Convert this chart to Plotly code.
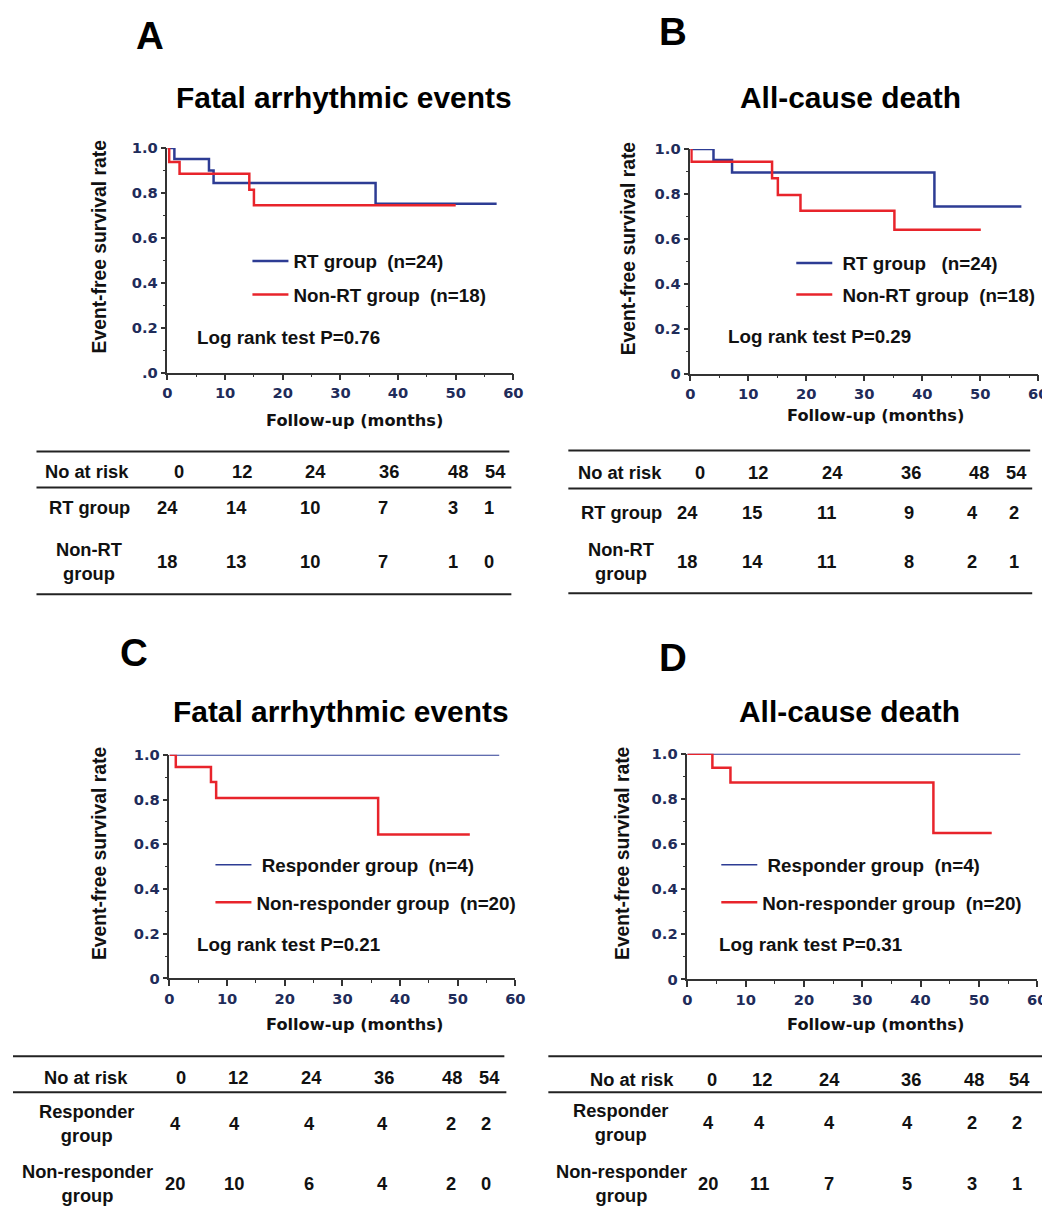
import plotly.graph_objects as go

# ---------------- data ----------------
# Panel A: Fatal arrhythmic events (RT vs Non-RT)
a_rt_t = [0, 1.2, 7.2, 8.0, 36.1, 57.1]
a_rt_s = [1.0, 0.951, 0.900, 0.845, 0.752, 0.752]
a_nonrt_t = [0, 0.3, 2.1, 14.2, 15.0, 50.0]
a_nonrt_s = [1.0, 0.938, 0.886, 0.815, 0.746, 0.746]
# Panel B: All-cause death (RT vs Non-RT)
b_rt_t = [0, 4.0, 7.2, 42.1, 57.1]
b_rt_s = [1.0, 0.951, 0.896, 0.744, 0.744]
b_nonrt_t = [0, 0.2, 14.1, 15.1, 19.0, 35.2, 50.1]
b_nonrt_s = [1.0, 0.944, 0.870, 0.796, 0.726, 0.641, 0.641]
# Panel C: Fatal arrhythmic events (Responder vs Non-responder)
c_resp_t = [0, 57.2]
c_resp_s = [1.0, 1.0]
c_nonresp_t = [0, 1.1, 7.2, 8.1, 36.2, 52.1]
c_nonresp_s = [1.0, 0.946, 0.878, 0.807, 0.644, 0.644]
# Panel D: All-cause death (Responder vs Non-responder)
d_resp_t = [0, 57.1]
d_resp_s = [1.0, 1.0]
d_nonresp_t = [0, 4.3, 7.4, 42.2, 52.2]
d_nonresp_s = [1.0, 0.938, 0.873, 0.649, 0.649]

panel_letters = ["A", "B", "C", "D"]
panel_titles = ["Fatal arrhythmic events", "All-cause death",
                "Fatal arrhythmic events", "All-cause death"]
series_names = [
    ["RT group\u00a0\u00a0(n=24)", "Non-RT group\u00a0\u00a0(n=18)"],
    ["\u00a0RT group\u00a0\u00a0\u00a0(n=24)", "\u00a0Non-RT group\u00a0\u00a0(n=18)"],
    ["\u00a0Responder group\u00a0\u00a0(n=4)", "Non-responder group\u00a0\u00a0(n=20)"],
    ["\u00a0Responder group\u00a0\u00a0(n=4)", "Non-responder group\u00a0\u00a0(n=20)"],
]
pvalue_texts = ["Log rank test P=0.76", "Log rank test P=0.29",
                "Log rank test P=0.21", "Log rank test P=0.31"]
y_tick_values = [0, 0.2, 0.4, 0.6, 0.8, 1.0]
y_tick_labels_a = [".0", "0.2", "0.4", "0.6", "0.8", "1.0"]
y_tick_labels_other = ["0", "0.2", "0.4", "0.6", "0.8", "1.0"]

risk_times = ["0", "12", "24", "36", "48", "54"]
risk_header = "No at risk"
risk_labels = [["RT group", "Non-RT<br>group"],
               ["RT group", "Non-RT<br>group"],
               ["Responder<br>group", "Non-responder<br>group"],
               ["Responder<br>group", "Non-responder<br>group"]]
risk_a_rt = [24, 14, 10, 7, 3, 1]
risk_a_nonrt = [18, 13, 10, 7, 1, 0]
risk_b_rt = [24, 15, 11, 9, 4, 2]
risk_b_nonrt = [18, 14, 11, 8, 2, 1]
risk_c_resp = [4, 4, 4, 4, 2, 2]
risk_c_nonresp = [20, 10, 6, 4, 2, 0]
risk_d_resp = [4, 4, 4, 4, 2, 2]
risk_d_nonresp = [20, 11, 7, 5, 3, 1]

# ---------------- layout constants ----------------
W, H = 1050, 1208
# observed mapping from figure pixels to the photographed picture
SX, CX, SY, CY = 0.986, 13.5, 0.988, 14.6
BLUE = "#2d3c94"
RED = "#e8242b"
AXIS_COLOR = "#333333"
TXT = "Liberation Sans, Arial, sans-serif"


def fs(v):
    return round(v / SX, 1)


def clamp(v):
    return max(0.0, min(1.0, v))


TICK_FONT = dict(family="DejaVu Sans", size=fs(14.5), color="#1f2c5a", weight="bold")


def px_x(r):
    return clamp(((r - CX) / SX) / W)


def px_y(r):
    return clamp(1 - ((r - CY) / SY) / H)


# plot areas in target picture pixels: (x_left, x_right, y_top(=1.0), y_bottom(=0))
areas = [(168, 514, 146, 371), (691, 1039, 147, 372),
         (170, 516, 754, 978), (688, 1038, 753, 979)]
letter_pos = [(151, 33), (674, 29), (135, 651), (674, 656)]
title_pos = [(345, 95), (851, 95), (342, 711), (850, 711)]
ytitle_pos = [(100, 244), (630, 246), (100, 852), (623, 852)]
xtitle_pos = [(355, 419), (876, 414), (355, 1024), (876, 1024)]
pval_pos = [(196, 336), (727, 335), (196, 944), (718, 944)]
legend_swatch = [(253, 276), (797, 277), (216, 883), (722, 883)]
legend_gap = [6, 4, 10, 10]
resp_width = [2.5, 2.5, 1.6, 1.6]

series = [
    (a_rt_t, a_rt_s, a_nonrt_t, a_nonrt_s),
    (b_rt_t, b_rt_s, b_nonrt_t, b_nonrt_s),
    (c_resp_t, c_resp_s, c_nonresp_t, c_nonresp_s),
    (d_resp_t, d_resp_s, d_nonresp_t, d_nonresp_s),
]

fig = go.Figure()
annotations = []
shapes = []
layout_axes = {}

for i in range(4):
    sfx = "" if i == 0 else str(i + 1)
    xl, xr, yt, yb = areas[i]
    t1, s1, t2, s2 = series[i]
    leg = "legend" if i == 0 else f"legend{i + 1}"
    fig.add_trace(go.Scatter(
        x=t1, y=s1, mode="lines", name=series_names[i][0],
        line=dict(shape="hv", color=BLUE, width=resp_width[i]),
        xaxis="x" + sfx, yaxis="y" + sfx, legend=leg,
        legendgroup=f"g{i}a", cliponaxis=False, hoverinfo="skip"))
    fig.add_trace(go.Scatter(
        x=t2, y=s2, mode="lines", name=series_names[i][1],
        line=dict(shape="hv", color=RED, width=2.5),
        xaxis="x" + sfx, yaxis="y" + sfx, legend=leg,
        legendgroup=f"g{i}b", cliponaxis=False, hoverinfo="skip"))

    layout_axes["xaxis" + sfx] = dict(
        domain=[px_x(xl), px_x(xr)], anchor="y" + sfx, range=[0, 60],
        tickmode="linear", tick0=0, dtick=10,
        showline=True, linecolor=AXIS_COLOR, linewidth=1.5,
        ticks="outside", ticklen=6, tickwidth=1.5, tickcolor=AXIS_COLOR,
        minor=dict(ticks="outside", ticklen=3, tickwidth=1, tickcolor=AXIS_COLOR,
                   tickmode="linear", tick0=0, dtick=5),
        showgrid=False, zeroline=False, tickfont=TICK_FONT, fixedrange=True)
    layout_axes["yaxis" + sfx] = dict(
        domain=[px_y(yb), px_y(yt)], anchor="x" + sfx, range=[0, 1.0],
        tickmode="array", tickvals=y_tick_values,
        ticktext=y_tick_labels_a if i == 0 else y_tick_labels_other,
        showline=True, linecolor=AXIS_COLOR, linewidth=1.5,
        ticks="outside", ticklen=5, tickwidth=1.5, tickcolor=AXIS_COLOR,
        minor=dict(ticks="outside", ticklen=3, tickwidth=1, tickcolor=AXIS_COLOR,
                   tickmode="linear", tick0=0, dtick=0.1),
        showgrid=False, zeroline=False, tickfont=TICK_FONT, fixedrange=True)

    lx, ly = legend_swatch[i]
    layout_axes[leg] = dict(
        x=px_x(lx - 5), y=px_y(ly), xanchor="left", yanchor="middle",
        bgcolor="rgba(0,0,0,0)", borderwidth=0, tracegroupgap=legend_gap[i],
        itemwidth=36,
        font=dict(family=TXT, size=fs(18.5), color="#111111", weight="bold"))

    annotations.append(dict(text=panel_letters[i], x=px_x(letter_pos[i][0]),
                            y=px_y(letter_pos[i][1]), xref="paper", yref="paper",
                            showarrow=False, xanchor="center", yanchor="middle",
                            font=dict(family=TXT, size=fs(38), color="#000", weight="bold")))
    annotations.append(dict(text=panel_titles[i], x=px_x(title_pos[i][0]),
                            y=px_y(title_pos[i][1]), xref="paper", yref="paper",
                            showarrow=False, xanchor="center", yanchor="middle",
                            font=dict(family=TXT, size=fs(29.5), color="#000", weight="bold")))
    annotations.append(dict(text="Event-free survival rate", x=px_x(ytitle_pos[i][0]),
                            y=px_y(ytitle_pos[i][1]), xref="paper", yref="paper",
                            textangle=-90, showarrow=False, xanchor="center", yanchor="middle",
                            font=dict(family=TXT, size=fs(19), color="#111", weight="bold")))
    annotations.append(dict(text="Follow-up (months)", x=px_x(xtitle_pos[i][0]),
                            y=px_y(xtitle_pos[i][1]), xref="paper", yref="paper",
                            showarrow=False, xanchor="center", yanchor="middle",
                            font=dict(family="DejaVu Sans", size=fs(16), color="#111", weight="bold")))
    annotations.append(dict(text=pvalue_texts[i], x=px_x(pval_pos[i][0]),
                            y=px_y(pval_pos[i][1]), xref="paper", yref="paper",
                            showarrow=False, xanchor="left", yanchor="middle",
                            font=dict(family=TXT, size=fs(18.5), color="#111", weight="bold")))

# ---------------- number-at-risk tables ----------------
tables = [
    dict(lines=[(37, 510, 450), (37, 512, 486), (37, 512, 593)],
         label_x=90, header_label_x=88, header_y=470, row_y=[506, 560],
         head_x=[180, 243, 316, 390, 459, 496], val_x=[168, 237, 311, 384, 454, 490],
         rows=[risk_a_rt, risk_a_nonrt]),
    dict(lines=[(569, 1031, 449), (569, 1033, 487), (569, 1033, 592)],
         label_x=622, header_label_x=621, header_y=471, row_y=[511, 560],
         head_x=[701, 759, 833, 912, 980, 1017], val_x=[688, 753, 827, 910, 973, 1015],
         rows=[risk_b_rt, risk_b_nonrt]),
    dict(lines=[(12, 505, 1056), (12, 507, 1092)],
         label_x=88, header_label_x=87, header_y=1077, row_y=[1123, 1184],
         head_x=[182, 239, 312, 385, 453, 490], val_x=[176, 235, 310, 383, 452, 487],
         rows=[risk_c_resp, risk_c_nonresp]),
    dict(lines=[(549, 1050, 1056), (549, 1050, 1092)],
         label_x=622, header_label_x=633, header_y=1079, row_y=[1122, 1184],
         head_x=[713, 763, 830, 912, 975, 1020], val_x=[709, 760, 830, 908, 973, 1018],
         rows=[risk_d_resp, risk_d_nonresp]),
]
TFONT = dict(family=TXT, size=fs(18), color="#111", weight="bold")
for ti, tb in enumerate(tables):
    for (x0, x1, y) in tb["lines"]:
        shapes.append(dict(type="line", xref="paper", yref="paper",
                           x0=px_x(x0), x1=px_x(x1), y0=px_y(y), y1=px_y(y),
                           line=dict(color="#222", width=2)))
    annotations.append(dict(text=risk_header, x=px_x(tb["header_label_x"]), y=px_y(tb["header_y"]),
                            xref="paper", yref="paper", showarrow=False,
                            xanchor="center", yanchor="middle", font=TFONT))
    for hx, ht in zip(tb["head_x"], risk_times):
        annotations.append(dict(text=ht, x=px_x(hx), y=px_y(tb["header_y"]),
                                xref="paper", yref="paper", showarrow=False,
                                xanchor="center", yanchor="middle", font=TFONT))
    for ri, row in enumerate(tb["rows"]):
        ry = tb["row_y"][ri]
        annotations.append(dict(text=risk_labels[ti][ri], x=px_x(tb["label_x"]), y=px_y(ry),
                                xref="paper", yref="paper", showarrow=False,
                                xanchor="center", yanchor="middle", align="center", font=TFONT))
        for vx, v in zip(tb["val_x"], row):
            annotations.append(dict(text=str(v), x=px_x(vx), y=px_y(ry),
                                    xref="paper", yref="paper", showarrow=False,
                                    xanchor="center", yanchor="middle", font=TFONT))

fig.update_layout(
    width=W, height=H, margin=dict(l=0, r=0, t=0, b=0),
    paper_bgcolor="white", plot_bgcolor="white",
    showlegend=True, annotations=annotations, shapes=shapes,
    **layout_axes)

fig.write_html("out.html")
